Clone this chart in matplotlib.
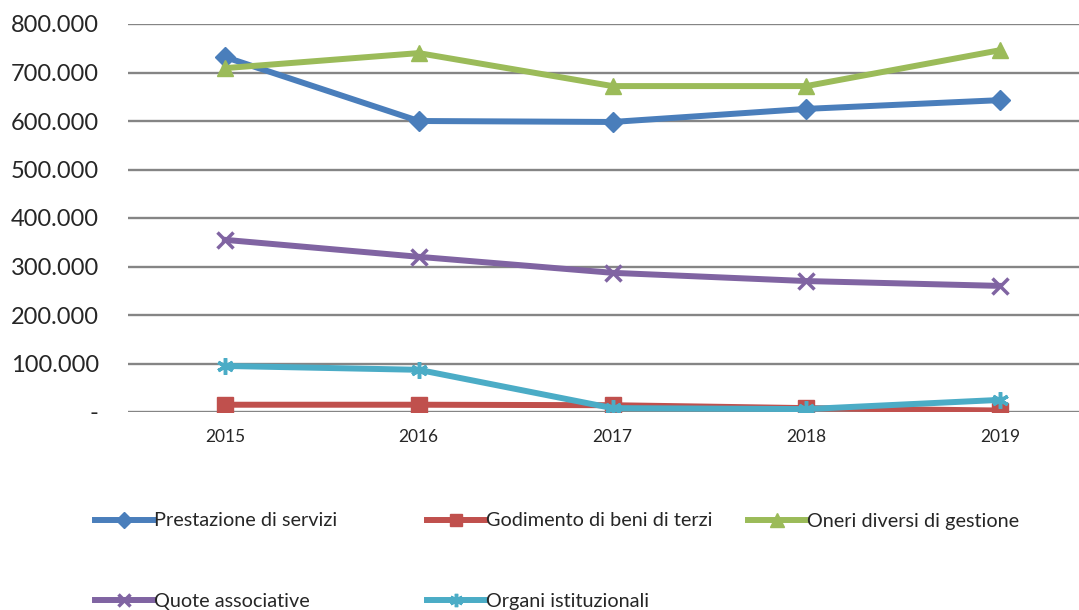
import matplotlib
matplotlib.use("Agg")
import matplotlib.pyplot as plt
from matplotlib.ticker import FuncFormatter
from matplotlib.lines import Line2D

years = ["2015", "2016", "2017", "2018", "2019"]
prestazione = [732000, 600000, 598000, 625000, 643000]
godimento = [15000, 15000, 14000, 8000, 3000]
oneri = [709000, 740000, 672000, 672000, 746000]
quote = [355000, 320000, 287000, 270000, 260000]
organi = [95000, 87000, 8000, 6000, 25000]

series_names = ["Prestazione di servizi", "Godimento di beni di terzi",
                "Oneri diversi di gestione", "Quote associative",
                "Organi istituzionali"]
y_ticks = [0, 100000, 200000, 300000, 400000, 500000, 600000, 700000, 800000]

colors = ["#4A7EBB", "#C0504D", "#9BBB59", "#8064A2", "#4BACC6"]
markers = ["D", "s", "^", "x", (6, 2, 0)]
msizes = [10, 11.5, 12, 11, 12]

plt.rcParams['font.family'] = ['Lato', 'DejaVu Sans']

fig = plt.figure(figsize=(10.79, 6.10), dpi=100)
ax = fig.add_axes([128 / 1079, 198 / 610, 969 / 1079, 388 / 610])

xs = list(range(len(years)))
data = [prestazione, godimento, oneri, quote, organi]
handles = []
for vals, c, m, ms, name in zip(data, colors, markers, msizes, series_names):
    ln, = ax.plot(xs, vals, color=c, lw=4.3, marker=m, markersize=ms,
                  markeredgewidth=2.5 if m in ("x",) or isinstance(m, tuple) else 1,
                  markeredgecolor=c, markerfacecolor=c, label=name,
                  solid_joinstyle="round", zorder=3)
    handles.append(ln)

ax.set_xlim(-0.5, 4.5)
ax.set_ylim(0, 800000)
ax.set_yticks(y_ticks)
ax.yaxis.set_major_formatter(FuncFormatter(
    lambda v, p: "-" if v == 0 else f"{int(v):,}".replace(",", ".")))
ax.set_xticks(xs)
ax.set_xticklabels(years)
ax.grid(axis="y", color="#858585", lw=1.7, zorder=1)
for s in ax.spines.values():
    s.set_visible(False)
ax.tick_params(axis="y", length=0, pad=21, labelsize=17, labelcolor="#262626")
ax.tick_params(axis="x", length=0, pad=12, labelsize=12.5, labelcolor="#262626")

# Legend entries placed individually (Excel-style evenly spaced columns)
positions = [(95, 521), (427, 521), (748, 521), (95, 601), (427, 601)]
for h, (px, py), name in zip(handles, positions, series_names):
    proxy = Line2D([0], [0], color=h.get_color(), lw=4.3, marker=h.get_marker(),
                   markersize=h.get_markersize() * 0.8,
                   markeredgewidth=h.get_markeredgewidth(),
                   markeredgecolor=h.get_color(), markerfacecolor=h.get_color())
    leg = fig.legend([proxy], [name], loc="center left",
                     bbox_to_anchor=(px / 1079, 1 - py / 610),
                     frameon=False, handlelength=2.9, handletextpad=0.05,
                     borderpad=0, borderaxespad=0, fontsize=14.3,
                     labelcolor="#262626")

fig.savefig("out.png", dpi=100)
